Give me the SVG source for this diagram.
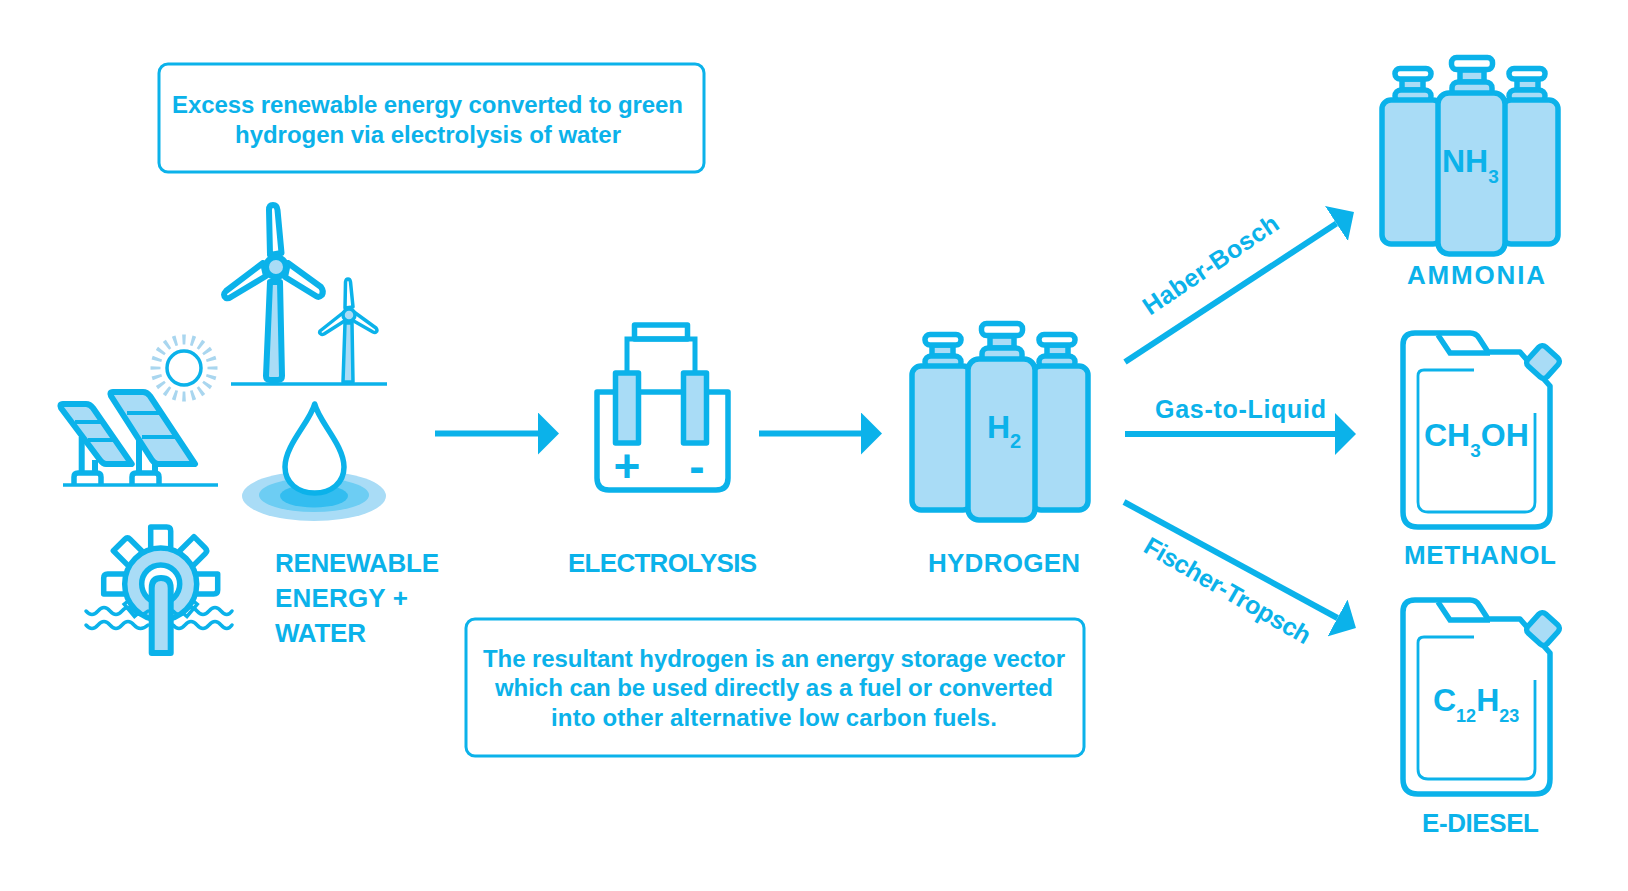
<svg xmlns="http://www.w3.org/2000/svg" xmlns:xlink="http://www.w3.org/1999/xlink" width="1628" height="891" viewBox="0 0 1628 891">
<style>
text{font-family:"Liberation Sans",Arial,sans-serif;font-weight:700;fill:#0bb2ea}
.box{fill:#fff;stroke:#0bb2ea;stroke-width:3}
.t{font-size:24px;text-anchor:middle}
.lab{font-size:26px}
.f{font-size:32px}
.conn{stroke:#0bb2ea;stroke-width:6;fill:none}
.o{stroke:#0bb2ea;stroke-width:5.5;stroke-linejoin:round;fill:#fff}
.l{stroke:#0bb2ea;stroke-width:5.5;stroke-linejoin:round;fill:#a9dcf6}
.n{stroke:#0bb2ea;fill:none}
</style>
<defs>
<marker id="ah" markerUnits="userSpaceOnUse" viewBox="0 0 21 42" refX="0" refY="21" markerWidth="21" markerHeight="42" orient="auto"><path d="M0,0L21,21L0,42Z" fill="#0bb2ea"/></marker>
<g id="bottles">
<rect class="l" x="932" y="345" width="21" height="11"/>
<rect class="l" x="925" y="356" width="36" height="12" rx="6"/>
<rect class="o" x="925" y="334.5" width="36" height="10.5" rx="5"/>
<rect class="l" x="1047" y="345" width="21" height="11"/>
<rect class="l" x="1039" y="356" width="36" height="12" rx="6"/>
<rect class="o" x="1039" y="334.5" width="36" height="10.5" rx="5"/>
<rect class="l" x="990" y="336" width="24" height="12"/>
<rect class="l" x="982" y="348" width="40" height="14" rx="6"/>
<rect class="o" x="981.5" y="323.5" width="41" height="12" rx="5"/>
<rect class="l" x="912" y="366" width="60" height="144" rx="9"/>
<rect class="l" x="1032" y="366" width="56" height="144" rx="9"/>
<rect class="l" x="968" y="359" width="67" height="161" rx="11"/>
</g>
<g id="can">
<path class="o" d="M1415,333H1470Q1476,333 1479,338L1488,352H1520L1550,386V512Q1550,527 1535,527H1418Q1403,527 1403,512V345Q1403,333 1415,333Z"/>
<path class="n" stroke-width="5.5" d="M1438,335L1450,353H1490"/>
<rect class="l" x="1530" y="349" width="26" height="26" rx="5" transform="rotate(42 1543 362)"/>
<path class="n" stroke-width="2.8" d="M1474,370H1424Q1418,370 1418,376V502Q1418,512 1428,512H1525Q1535,512 1535,502V413"/>
</g>
<path id="pad" class="o" d="M-10,-36V-57H6Q10,-57 10,-53V-36"/>
</defs>

<g id="connectors">
<path class="conn" d="M1125,362L1336.4,223.5" marker-end="url(#ah)"/>
<path class="conn" d="M1125,434H1335" marker-end="url(#ah)"/>
<path class="conn" d="M1124,502L1337.5,618" marker-end="url(#ah)"/>
<path class="conn" d="M435,433.5H538" marker-end="url(#ah)"/>
<path class="conn" d="M759,433.5H861" marker-end="url(#ah)"/>
</g>

<g id="note-top">
<rect class="box" x="159" y="64" width="545" height="108" rx="9"/>
<text class="t" x="427.5" y="113" textLength="511">Excess renewable energy converted to green</text>
<text class="t" x="428" y="143" textLength="386">hydrogen via electrolysis of water</text>
</g>
<g id="note-bottom">
<rect class="box" x="466" y="619" width="618" height="137" rx="9"/>
<text class="t" x="774" y="667" textLength="582">The resultant hydrogen is an energy storage vector</text>
<text class="t" x="774" y="696" textLength="558">which can be used directly as a fuel or converted</text>
<text class="t" x="774" y="726" textLength="446">into other alternative low carbon fuels.</text>
</g>

<g id="renewable-energy">
<g id="sun">
<circle cx="184" cy="368" r="28.5" fill="none" stroke="#a9d6ef" stroke-width="10" pathLength="20" stroke-dasharray="0.36 0.64" stroke-dashoffset="0.18"/>
<circle cx="184" cy="368" r="17" fill="#fff" stroke="#0bb2ea" stroke-width="3.5"/>
</g>
<g id="turbine-large">
<path class="l" style="stroke-width:6" d="M270,282H280L282,376Q282,380 278,380H270Q266,380 266,376Z"/>
<path class="o" style="stroke-width:6" d="M270,255L269,210Q269,205 273,205Q277,205 277.5,210L281.5,253Z"/>
<path class="o" style="stroke-width:6" d="M263,263L226,291Q222,295 226,298Q228,299 231,297L266,276Z"/>
<path class="o" style="stroke-width:6" d="M288,263L321,287Q324,291 322,295Q319,298 316,296L285,277Z"/>
<circle class="l" style="stroke-width:6" cx="276" cy="267" r="10"/>
</g>
<g id="turbine-small">
<path class="l" style="stroke-width:3.5" d="M345,323H352L353,382H343Z"/>
<path class="o" style="stroke-width:3.5" d="M345,308L345.5,282Q346,279 348,279Q350,279 350.5,282L353,307Z"/>
<path class="o" style="stroke-width:3.5" d="M344,312L320,331Q319,333 321,334Q322,335 324,334L346,320Z"/>
<path class="o" style="stroke-width:3.5" d="M354,312L376,328Q378,331 376,332Q375,333 373,332L352,320Z"/>
<circle class="l" style="stroke-width:3.5" cx="349" cy="315" r="6"/>
</g>
<path class="n" stroke-width="3.5" d="M231,384H387"/>
<g id="solar">
<path class="n" stroke-width="6" d="M81.7,437V473M95,460V473M139,438V473M155,457V473"/>
<path class="o" d="M74,485V477Q74,473 78,473H97Q101,473 101,477V485M132,485V477Q132,473 136,473H155Q159,473 159,477V485"/>
<path class="l" style="stroke-width:6" d="M63,404H86Q90,404 93,408L131.7,464H106Q103,464 100,460L61,408Q59,404 63,404Z"/>
<path class="n" stroke-width="4" d="M75,422H102M88,440H114"/>
<path class="l" style="stroke-width:6" d="M113,392H143Q147,392 150,396L195,464H158Q155,464 152,460L111,396Q109,392 113,392Z"/>
<path class="n" stroke-width="4" d="M127,413H160M142,437H175"/>
<path class="n" stroke-width="3.5" d="M63,485H218"/>
</g>
<g id="water-drop">
<ellipse cx="314" cy="496" rx="72" ry="25" fill="#a9dcf6"/>
<ellipse cx="314" cy="495" rx="55" ry="17" fill="#6dcdf3"/>
<ellipse cx="314" cy="496" rx="34" ry="11.5" fill="#33bdf0"/>
<path class="o" style="stroke-width:5.5" d="M314.7,404C310,422 285,445 285,467C285,483 298,493 314.7,493C331,493 344,483 344,467C344,445 319,422 314.7,404Z"/>
</g>
<g id="water-wheel">
<g transform="translate(160.7,584)">
<path class="n" stroke-width="3.5" transform="rotate(-130)" d="M-8,-34V-41H8V-34"/>
<path class="n" stroke-width="3.5" transform="rotate(130)" d="M-8,-34V-41H8V-34"/>
<use xlink:href="#pad" href="#pad" transform="rotate(-90)"/>
<use xlink:href="#pad" href="#pad" transform="rotate(-45)"/>
<use xlink:href="#pad" href="#pad"/>
<use xlink:href="#pad" href="#pad" transform="rotate(45)"/>
<use xlink:href="#pad" href="#pad" transform="rotate(90)"/>
<circle class="l" r="36"/>
<circle class="o" r="19"/>
</g>
<path class="n" stroke-width="3.5" stroke-linecap="round" d="M86,611q6,7 12,0t12,0t12,0t12,0t14,0M86,625q6,7 12,0t12,0t12,0t12,0t14,0M173,611q6,7 12,0t12,0t12,0t12,0t11,0M173,625q6,7 12,0t12,0t12,0t12,0t11,0"/>
<path class="l" style="stroke-width:6" d="M151.7,653V588Q151.7,578 161,578Q170.7,578 170.7,588V653Z"/>
</g>
<g id="label-renewable">
<text class="lab" x="275" y="572" textLength="164">RENEWABLE</text>
<text class="lab" x="275" y="607" textLength="133">ENERGY +</text>
<text class="lab" x="275" y="642" textLength="91">WATER</text>
</g>
</g>

<g id="electrolysis">
<path class="o" style="fill:none" d="M597,392H728V478Q728,490 716,490H609Q597,490 597,478Z"/>
<rect class="o" x="634.5" y="325" width="53" height="14"/>
<path class="n" stroke-width="5" d="M627,375V339H695V375"/>
<rect class="l" x="615.5" y="373" width="23" height="70"/>
<rect class="l" x="683.5" y="373" width="23" height="70"/>
<text x="627" y="482" font-size="46" text-anchor="middle">+</text>
<text x="697" y="482" font-size="46" text-anchor="middle">-</text>
<text class="lab" x="568" y="572" textLength="189">ELECTROLYSIS</text>
</g>

<g id="hydrogen">
<use xlink:href="#bottles" href="#bottles"/>
<text class="f" x="987" y="438">H<tspan dy="10" font-size="20">2</tspan></text>
<text class="lab" x="928" y="572" textLength="152">HYDROGEN</text>
</g>

<g id="ammonia">
<use xlink:href="#bottles" href="#bottles" transform="translate(470,-266)"/>
<text class="f" x="1442" y="172">NH<tspan dy="11" font-size="19">3</tspan></text>
<text class="lab" x="1407" y="284" textLength="138">AMMONIA</text>
</g>

<g id="methanol">
<use xlink:href="#can" href="#can"/>
<text class="f" x="1424" y="446">CH<tspan dy="11" font-size="19">3</tspan><tspan dy="-11">OH</tspan></text>
<text class="lab" x="1404" y="564" textLength="152">METHANOL</text>
</g>

<g id="e-diesel">
<use xlink:href="#can" href="#can" transform="translate(0,267)"/>
<text class="f" x="1433" y="711">C<tspan dy="11" font-size="18">12</tspan><tspan dy="-11">H</tspan><tspan dy="11" font-size="18">23</tspan></text>
<text class="lab" x="1422" y="832" textLength="117">E-DIESEL</text>
</g>

<g id="connector-labels">
<text font-size="25" transform="translate(1150,316) rotate(-34)" textLength="158">Haber-Bosch</text>
<text font-size="25" x="1155" y="418" textLength="171">Gas-to-Liquid</text>
<text font-size="25" transform="translate(1142,551) rotate(30)" textLength="188">Fischer-Tropsch</text>
</g>
</svg>
